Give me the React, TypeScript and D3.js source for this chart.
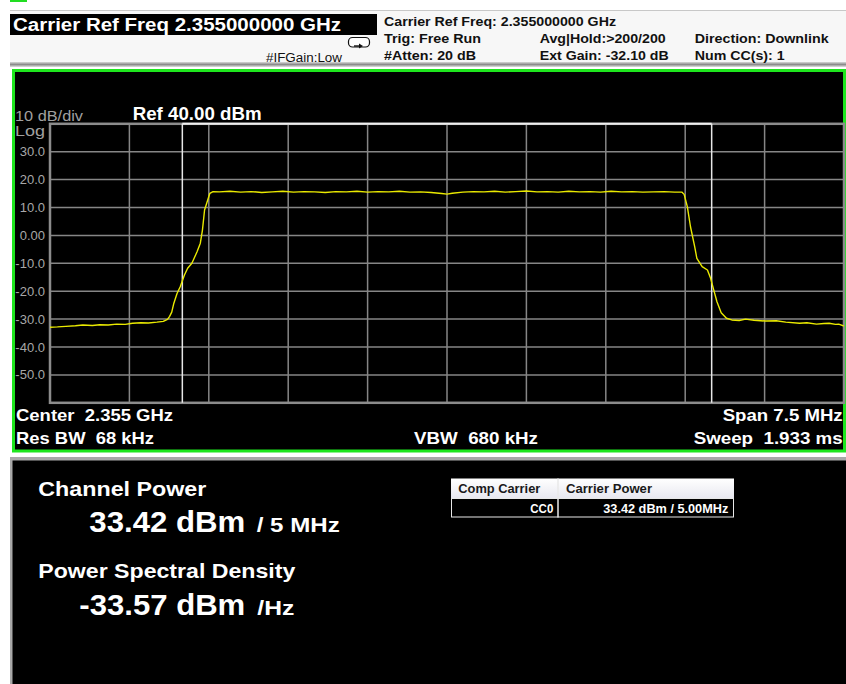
import { useEffect, useRef } from "react";
import * as d3 from "d3";

// Trace: offset from centre (MHz) and level (dBm).
const traceFreqMHz = [
  -3.75, -3.68, -3.6, -3.51, -3.44, -3.35, -3.28, -3.2, -3.12, -3.04, -2.97, -2.89, -2.82, -2.74, -2.68,
  -2.64, -2.62, -2.6, -2.58, -2.55, -2.52, -2.48, -2.45, -2.41, -2.36, -2.33, -2.31, -2.29, -2.26, -2.24, -2.21,
  -2.15, -2.05, -1.95, -1.85, -1.75, -1.65, -1.55, -1.45, -1.35, -1.25, -1.15, -1.05, -0.95, -0.85, -0.75,
  -0.65, -0.55, -0.45, -0.35, -0.25, -0.15, -0.05, 0.0, 0.05, 0.15, 0.25, 0.35, 0.45, 0.55, 0.65, 0.75,
  0.85, 0.95, 1.05, 1.15, 1.25, 1.35, 1.45, 1.55, 1.65, 1.75, 1.85, 1.95, 2.05, 2.15,
  2.22, 2.24, 2.27, 2.3, 2.34, 2.36, 2.41, 2.46, 2.49, 2.52, 2.55, 2.59, 2.64, 2.69, 2.76, 2.82, 2.9,
  3.01, 3.11, 3.2, 3.33, 3.4, 3.49, 3.56, 3.61, 3.67, 3.7, 3.75,
];
const traceLevelDbm = [
  -32.9, -32.8, -32.6, -32.4, -32.1, -32.3, -32.0, -32.1, -31.8, -31.9, -31.5, -31.3, -31.4, -31.1, -30.8,
  -30.1, -29.0, -27.5, -24.3, -20.8, -18.4, -14.2, -11.8, -10.0, -5.8, -2.8, 1.9, 9.1, 12.7, 15.1, 15.7,
  15.6, 15.8, 15.5, 15.7, 15.4, 15.6, 15.8, 15.5, 15.7, 15.6, 15.4, 15.7, 15.6, 15.8, 15.5,
  15.7, 15.6, 15.8, 15.5, 15.6, 15.4, 15.0, 14.8, 15.1, 15.5, 15.7, 15.6, 15.8, 15.5, 15.7, 15.9,
  15.6, 15.7, 15.5, 15.8, 15.6, 15.7, 15.5, 15.8, 15.6, 15.7, 15.5, 15.6, 15.7, 15.5,
  15.5, 14.7, 10.3, 3.1, -4.1, -8.2, -11.2, -12.4, -15.4, -19.6, -23.8, -27.7, -29.7, -30.3, -30.5, -30.0, -30.4,
  -30.7, -30.6, -31.1, -31.5, -31.3, -31.8, -31.6, -31.5, -31.9, -31.8, -32.5,
];

const yTickValues = [30, 20, 10, 0, -10, -20, -30, -40, -50];
const yTickLabels = ["30.0", "20.0", "10.0", "0.00", "-10.0", "-20.0", "-30.0", "-40.0", "-50.0"];
const channelEdgesMHz = [-2.5, 2.5];

const tableHeaders = ["Comp Carrier", "Carrier Power"];
const tableRow = ["CC0", "33.42 dBm / 5.00MHz"];

const FONT = "'Liberation Sans', Arial, sans-serif";

export default function App() {
  const ref = useRef<SVGSVGElement>(null);

  useEffect(() => {
    if (!ref.current) return;
    const svg = d3.select(ref.current);
    svg.selectAll("*").remove();

    const width = 846;
    const height = 684;

    // plot area in screen pixels
    const x = d3.scaleLinear().domain([-3.75, 3.75]).range([50, 844]);
    const y = d3.scaleLinear().domain([-60, 40]).range([402.8, 123.8]);

    // helper for text, stretched to the measured width when given
    const text = (
      g: any,
      s: string,
      px: number,
      py: number,
      size: number,
      opts: { bold?: boolean; fill?: string; len?: number; anchor?: string } = {}
    ) => {
      const t = g
        .append("text")
        .attr("x", px)
        .attr("y", py)
        .attr("font-family", FONT)
        .attr("font-size", size)
        .attr("font-weight", opts.bold ? "bold" : "normal")
        .attr("fill", opts.fill || "#fff")
        .attr("text-anchor", opts.anchor || "start")
        .style("white-space", "pre")
        .text(s);
      if (opts.len) t.attr("textLength", opts.len).attr("lengthAdjust", "spacingAndGlyphs");
      return t;
    };

    svg.append("rect").attr("width", width).attr("height", height).attr("fill", "#fff");

    // ---- header strip ----
    const header = svg.append("g");
    header.append("line").attr("x1", 10).attr("x2", width).attr("y1", 10.5).attr("y2", 10.5)
      .attr("stroke", "#c8c8c8");
    header.append("rect").attr("x", 10).attr("y", 0).attr("width", 17).attr("height", 2).attr("fill", "#22dd22");
    header.append("rect").attr("x", 10).attr("y", 11).attr("width", width - 10).attr("height", 51)
      .attr("fill", "#f7f7f7");
    const band = svg.append("defs").append("linearGradient").attr("id", "band")
      .attr("x1", 0).attr("x2", 0).attr("y1", 0).attr("y2", 1);
    band.append("stop").attr("offset", "0%").attr("stop-color", "#d8d8d8");
    band.append("stop").attr("offset", "50%").attr("stop-color", "#8c8c8c");
    band.append("stop").attr("offset", "100%").attr("stop-color", "#e0e0e0");
    header.append("rect").attr("x", 10).attr("y", 62).attr("width", width - 10).attr("height", 5)
      .attr("fill", "url(#band)");

    header.append("rect").attr("x", 10).attr("y", 14).attr("width", 367).attr("height", 21).attr("fill", "#000");
    text(header, "Carrier Ref Freq 2.355000000 GHz", 13, 30.5, 18, { bold: true, len: 328 });
    text(header, "#IFGain:Low", 266, 61.5, 12.5, { fill: "#111", len: 76 });

    // little trigger icon
    header.append("rect").attr("x", 348.5).attr("y", 37.5).attr("width", 21).attr("height", 9.5).attr("rx", 4)
      .attr("fill", "#fff").attr("stroke", "#111").attr("stroke-width", 1.2);
    header.append("line").attr("x1", 354).attr("x2", 360).attr("y1", 46).attr("y2", 46)
      .attr("stroke", "#111").attr("stroke-width", 1.4);
    header.append("path").attr("d", "M359,43.5 L363,46 L359,48.5 Z").attr("fill", "#111");

    const info = [
      ["Carrier Ref Freq: 2.355000000 GHz", 384, 26, 232],
      ["Trig: Free Run", 384, 42.5, 97],
      ["#Atten: 20 dB", 384, 60, 92],
      ["Avg|Hold:>200/200", 539.7, 42.5, 126],
      ["Ext Gain: -32.10 dB", 539.7, 60, 129],
      ["Direction: Downlink", 694.7, 42.5, 134],
      ["Num CC(s): 1", 694.7, 60, 90],
    ] as [string, number, number, number][];
    info.forEach(([s, px, py, len]) => text(header, s, px, py, 13.5, { bold: true, fill: "#111", len }));

    // ---- spectrum window ----
    svg.append("rect").attr("x", 13.5).attr("y", 70.5).attr("width", 831).attr("height", 380.5)
      .attr("fill", "#000").attr("stroke", "#1ee61e").attr("stroke-width", 3);

    const plot = svg.append("g");
    text(plot, "10 dB/div", 15, 120.5, 15.5, { fill: "#a0a0a0", len: 68 });
    text(plot, "Log", 15, 136, 15.5, { fill: "#a0a0a0", len: 30 });
    text(plot, "Ref 40.00 dBm", 132.7, 120, 18, { bold: true, len: 129 });

    // graticule: 10 x 10 divisions
    const xDiv = d3.range(11).map(i => -3.75 + i * 0.75);
    const yDiv = d3.range(11).map(i => -60 + i * 10);
    plot.append("g").selectAll("line").data(xDiv.slice(1, 10)).join("line")
      .attr("x1", d => x(d)).attr("x2", d => x(d)).attr("y1", y(40)).attr("y2", y(-60))
      .attr("stroke", "#868686").attr("stroke-width", 1.5);
    plot.append("g").selectAll("line").data(yDiv.slice(1, 10)).join("line")
      .attr("x1", x(-3.75)).attr("x2", x(3.75)).attr("y1", d => y(d)).attr("y2", d => y(d))
      .attr("stroke", "#868686").attr("stroke-width", 1.5);

    // frame
    plot.append("rect").attr("x", x(-3.75)).attr("y", y(40)).attr("width", x(3.75) - x(-3.75))
      .attr("height", y(-60) - y(40)).attr("fill", "none").attr("stroke", "#8c8c8c").attr("stroke-width", 2.5);

    // channel bandwidth markers
    plot.append("g").selectAll("line").data(channelEdgesMHz).join("line")
      .attr("x1", d => x(d)).attr("x2", d => x(d)).attr("y1", y(40)).attr("y2", y(-60))
      .attr("stroke", "#e6e6e6").attr("stroke-width", 1.5);
    plot.append("line").attr("x1", x(-2.5)).attr("x2", x(2.5)).attr("y1", y(40)).attr("y2", y(40))
      .attr("stroke", "#f0f0f0").attr("stroke-width", 2);

    // y tick labels
    plot.append("g").selectAll("text").data(yTickValues).join("text")
      .attr("x", 45).attr("y", d => y(d) + 4.5)
      .attr("text-anchor", "end").attr("font-family", FONT).attr("font-size", 13)
      .attr("fill", "#a8a8a8")
      .text((d, i) => yTickLabels[i]);

    // trace
    svg.append("defs").append("clipPath").attr("id", "plotClip").append("rect")
      .attr("x", x(-3.75)).attr("y", y(40)).attr("width", x(3.75) - x(-3.75)).attr("height", y(-60) - y(40));
    const line = d3.line<number>()
      .x((d, i) => x(traceFreqMHz[i]))
      .y(d => y(d));
    plot.append("path").datum(traceLevelDbm).attr("d", line)
      .attr("clip-path", "url(#plotClip)")
      .attr("fill", "none").attr("stroke", "#eaea00").attr("stroke-width", 1.4)
      .attr("stroke-linejoin", "round");

    // annotation under the graticule
    text(plot, "Center  2.355 GHz", 16, 421.3, 17, { bold: true, len: 157 });
    text(plot, "Res BW  68 kHz", 16, 443.7, 17, { bold: true, len: 138 });
    text(plot, "VBW  680 kHz", 414, 443.7, 17, { bold: true, len: 124 });
    text(plot, "Span 7.5 MHz", 842.7 - 120, 421.3, 17, { bold: true, len: 120 });
    text(plot, "Sweep  1.933 ms", 842.7 - 149, 443.7, 17, { bold: true, len: 149 });

    // ---- results panel ----
    const res = svg.append("g");
    res.append("rect").attr("x", 10).attr("y", 457).attr("width", width - 10).attr("height", height - 457)
      .attr("fill", "#a8a8a8");
    res.append("rect").attr("x", 12.5).attr("y", 460.5).attr("width", width - 12.5).attr("height", height - 460.5)
      .attr("fill", "#000");

    text(res, "Channel Power", 38.3, 496, 20, { bold: true, len: 168 });
    text(res, "33.42 dBm", 89.3, 532.3, 29, { bold: true, len: 156 });
    text(res, "/ 5 MHz", 256.7, 532.3, 20, { bold: true, len: 83 });
    text(res, "Power Spectral Density", 38.3, 578.3, 20.5, { bold: true, len: 257 });
    text(res, "-33.57 dBm", 79.3, 615, 30, { bold: true, len: 166 });
    text(res, "/Hz", 257.3, 615, 20, { bold: true, len: 37 });

    // carrier table
    const hdrGrad = svg.select("defs").append("linearGradient").attr("id", "hdr")
      .attr("x1", 0).attr("x2", 0).attr("y1", 0).attr("y2", 1);
    hdrGrad.append("stop").attr("offset", "0%").attr("stop-color", "#ffffff");
    hdrGrad.append("stop").attr("offset", "100%").attr("stop-color", "#e8e8f0");
    const tx = [451, 558, 734];
    const ty = [478.5, 498, 517.5];
    res.append("rect").attr("x", tx[0]).attr("y", ty[0]).attr("width", tx[2] - tx[0]).attr("height", ty[1] - ty[0])
      .attr("fill", "url(#hdr)");
    res.append("rect").attr("x", tx[0] + 0.5).attr("y", ty[1] + 0.5).attr("width", tx[2] - tx[0] - 1)
      .attr("height", ty[2] - ty[1] - 1).attr("fill", "#000").attr("stroke", "#e8e8e8");
    res.append("line").attr("x1", tx[1]).attr("x2", tx[1]).attr("y1", ty[0]).attr("y2", ty[2])
      .attr("stroke", "#e8e8e8").attr("stroke-width", 1.5);
    text(res, tableHeaders[0], 458.3, 492.7, 13, { bold: true, fill: "#1a1a1a", len: 82 });
    text(res, tableHeaders[1], 566, 492.7, 13, { bold: true, fill: "#1a1a1a", len: 86 });
    text(res, tableRow[0], 553.3 - 23, 513.3, 12.5, { bold: true, len: 23 });
    text(res, tableRow[1], 728.3 - 125, 513.3, 12.5, { bold: true, len: 125 });
  }, []);

  return (
    <svg ref={ref} width={846} height={684} style={{ position: "absolute", left: 0, top: 0 }} />
  );
}
